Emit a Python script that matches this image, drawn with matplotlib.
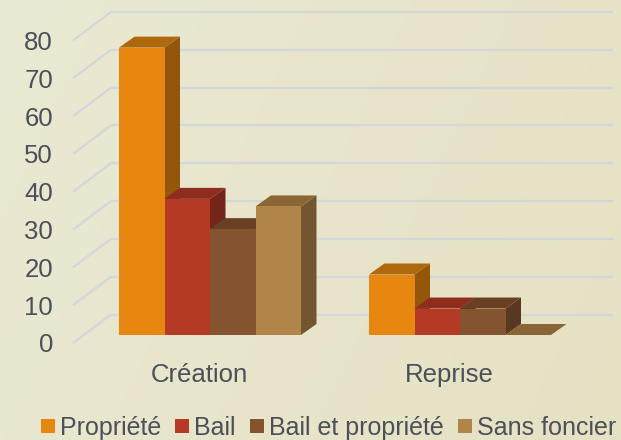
import numpy as np
import matplotlib
matplotlib.use("Agg")
import matplotlib.pyplot as plt
from matplotlib.lines import Line2D
from matplotlib.patches import Polygon
import matplotlib.colors as mcolors

# ---------------- data ----------------
categories = ["Création", "Reprise"]
series = ["Propriété", "Bail", "Bail et propriété", "Sans foncier"]
propriete = [76, 16]
bail = [36, 7]
bail_prop = [28, 7]
sans_foncier = [34, 0]
values = [propriete, bail, bail_prop, sans_foncier]
yticks = [0, 10, 20, 30, 40, 50, 60, 70, 80]

# ---------------- style ----------------
front_cols = ["#E8870F", "#B43A25", "#845430", "#B18449"]
top_cols = ["#B0680C", "#8E2C1D", "#6A4025", "#8A6535"]
side_cols = ["#93560A", "#74251A", "#5A3720", "#735630"]
text_col = "#4C5058"
grid_col = "#D4D7DA"
FONT = "Liberation Sans"
FS = 18.5
FS_LEG = 18

W, H = 621, 440
fig = plt.figure(figsize=(W / 100, H / 100), dpi=100)

# background gradient
bg = fig.add_axes([0, 0, 1, 1], zorder=-10)
gx = np.linspace(0, 1, 200)
gy = np.linspace(0, 1, 140)
GX, GY = np.meshgrid(gx, gy)
t = np.clip(0.75 * GX + 0.25 * GY, 0, 1)
c1 = np.array(mcolors.to_rgb("#EAE9D3"))
c2 = np.array(mcolors.to_rgb("#E5E1C3"))
img = c1[None, None, :] * (1 - t[..., None]) + c2[None, None, :] * t[..., None]
bg.imshow(img, extent=[0, 1, 0, 1], aspect="auto", origin="upper")
bg.set_axis_off()

# main axes = front plane of the bars
px_unit_x = 250.0
px_unit_y = 302.5 / 80
ax = fig.add_axes([85 / W, 105 / H, (615 - 85) / W, 302.5 / H])
ax.set_xlim((85 - 210) / px_unit_x, (615 - 210) / px_unit_x)
ax.set_ylim(0, 80)
ax.set_axis_off()
ax.patch.set_alpha(0)

def px2d(dx, dy):
    return dx / px_unit_x, dy / px_unit_y

bar_depth = px2d(15.5, 11)
wall_off = px2d(27.4, 20.5)
front_off = px2d(-10.6, -8)

# gridlines (back wall + left floor diagonals)
x_wall_left = (83.6 - 210) / px_unit_x
x_wall_right = (613 - 210) / px_unit_x - wall_off[0]
for v in yticks:
    ax.plot([x_wall_left + wall_off[0], x_wall_right + wall_off[0]],
            [v + wall_off[1], v + wall_off[1]], color=grid_col, lw=1.6,
            clip_on=False, zorder=1, solid_capstyle="butt")
    ax.plot([x_wall_left + front_off[0], x_wall_left + wall_off[0]],
            [v + front_off[1], v + wall_off[1]], color=grid_col, lw=1.6,
            clip_on=False, zorder=1, solid_capstyle="butt")

# bars
bw = 45.5 / px_unit_x
x = np.arange(len(categories))
z = 5
for i in range(len(categories)):
    for j in range(len(series)):
        h = values[j][i]
        left = x[i] + (j - 2) * bw
        right = left + bw
        dx, dy = bar_depth
        if h > 0:
            side = Polygon([(right, 0), (right + dx, dy), (right + dx, h + dy), (right, h)],
                           closed=True, fc=side_cols[j], ec="none", zorder=z, clip_on=False)
            ax.add_patch(side)
        top = Polygon([(left, h), (left + dx, h + dy), (right + dx, h + dy), (right, h)],
                      closed=True, fc=top_cols[j], ec="none", zorder=z + 1, clip_on=False)
        ax.add_patch(top)
        if h > 0:
            ax.bar(left, h, width=bw, align="edge", color=front_cols[j],
                   zorder=z + 2, clip_on=False, linewidth=0)
        z += 3

# y tick labels (front plane)
for v in yticks:
    ax.text((53 - 210) / px_unit_x, v - 4.6, str(v), ha="right", va="baseline",
            fontsize=FS, color=text_col, family=FONT, clip_on=False)

# category labels
for i, c in enumerate(categories):
    ax.text(x[i] + front_off[0], -(382 - 335) / px_unit_y, c, ha="center",
            va="baseline", fontsize=FS, color=text_col, family=FONT, clip_on=False)

# legend
handles = [Line2D([], [], marker="s", ls="none", color=front_cols[j],
                  markersize=9.5, markeredgewidth=0) for j in range(len(series))]
leg = fig.legend(handles, series, loc="center", bbox_to_anchor=(328.5 / W, 12 / H),
                 ncol=4, frameon=False, borderpad=0, handlelength=0.55,
                 handletextpad=0.22, columnspacing=0.56,
                 prop={"family": FONT, "size": FS_LEG})
for txt in leg.get_texts():
    txt.set_color(text_col)

fig.savefig("out.png", dpi=100)
